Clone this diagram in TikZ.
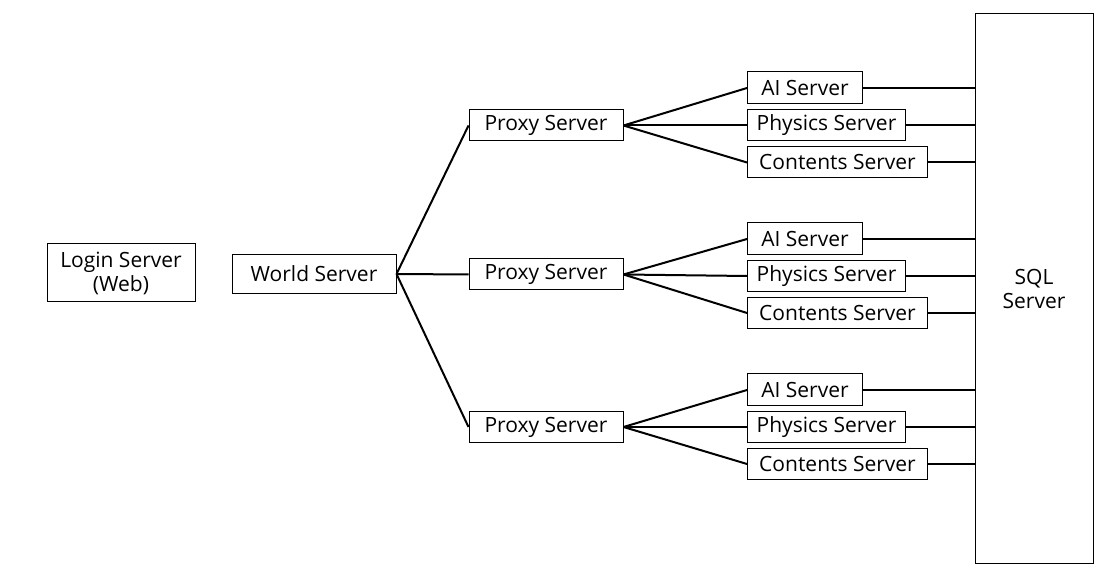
\documentclass[tikz,border=0pt]{standalone}
\usepackage{fontspec}
\setmainfont{Open Sans}
\usepackage{tikz}

\begin{document}
\begin{tikzpicture}[
    x=0.5pt, y=-0.5pt,
    box/.style={draw, line width=0.5pt, align=center, inner sep=0pt, minimum height=15.5pt, font=\fontsize{10.5}{12}\selectfont},
    link/.style={line width=1pt}
  ]
    \useasboundingbox (0,0) rectangle (1106,581);
    \node[box, minimum width=74pt, minimum height=29pt] (login) at (121,273) {Login Server\\(Web)};
    \node[box, minimum width=82pt, minimum height=19.5pt] (world) at (314,274) {World Server};
    \node[box, minimum width=59pt, minimum height=274.5pt] (sql) at (1034,288.5) {SQL\\Server};
    % first group
    \node[box, minimum width=77pt] (proxyA) at (546,125.5) {Proxy Server};
    \node[box, anchor=west, minimum width=57.5pt, minimum height=16pt] (aiA) at (747,88) {AI Server};
    \node[box, anchor=west, minimum width=79pt] (physA) at (747,125.5) {Physics Server};
    \node[box, anchor=west, minimum width=90pt] (contA) at (747,162.5) {Contents Server};
    % second group
    \node[box, minimum width=77pt] (proxyB) at (546,274.5) {Proxy Server};
    \node[box, anchor=west, minimum width=57.5pt, minimum height=16pt] (aiB) at (747,239) {AI Server};
    \node[box, anchor=west, minimum width=79pt] (physB) at (747,276) {Physics Server};
    \node[box, anchor=west, minimum width=90pt] (contB) at (747,313) {Contents Server};
    % third group
    \node[box, minimum width=77pt] (proxyC) at (546,427) {Proxy Server};
    \node[box, anchor=west, minimum width=57.5pt, minimum height=16pt] (aiC) at (747,390) {AI Server};
    \node[box, anchor=west, minimum width=79pt] (physC) at (747,427) {Physics Server};
    \node[box, anchor=west, minimum width=90pt] (contC) at (747,464) {Contents Server};
    \draw[link] (world.east) -- (proxyA.west);
    \draw[link] (world.east) -- (proxyB.west);
    \draw[link] (world.east) -- (proxyC.west);
    \draw[link] (proxyA.east) -- (aiA.west);
    \draw[link] (proxyA.east) -- (physA.west);
    \draw[link] (proxyA.east) -- (contA.west);
    \draw[link] (proxyB.east) -- (aiB.west);
    \draw[link] (proxyB.east) -- (physB.west);
    \draw[link] (proxyB.east) -- (contB.west);
    \draw[link] (proxyC.east) -- (aiC.west);
    \draw[link] (proxyC.east) -- (physC.west);
    \draw[link] (proxyC.east) -- (contC.west);
    \draw[link] (aiA.east) -- (aiA.east -| sql.west);
    \draw[link] (physA.east) -- (physA.east -| sql.west);
    \draw[link] (contA.east) -- (contA.east -| sql.west);
    \draw[link] (aiB.east) -- (aiB.east -| sql.west);
    \draw[link] (physB.east) -- (physB.east -| sql.west);
    \draw[link] (contB.east) -- (contB.east -| sql.west);
    \draw[link] (aiC.east) -- (aiC.east -| sql.west);
    \draw[link] (physC.east) -- (physC.east -| sql.west);
    \draw[link] (contC.east) -- (contC.east -| sql.west);
  \end{tikzpicture}
\end{document}
